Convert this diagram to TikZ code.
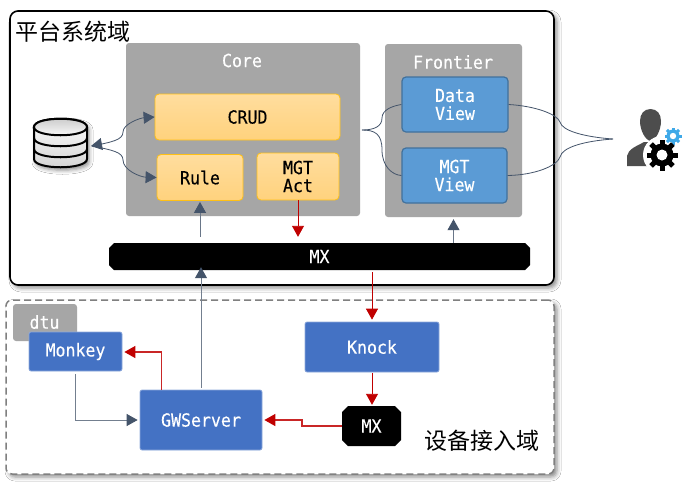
\documentclass[tikz,border=0pt]{standalone}
\usepackage{fontspec}
\setmonofont[FakeStretch=0.92,FakeBold=0.25]{DejaVu Sans Mono}
\newfontfamily\cjkfont{Noto Sans CJK SC}
\usetikzlibrary{arrows.meta,shadows.blur,calc}
\definecolor{panelgray}{HTML}{A6A6A6}
\definecolor{slate}{HTML}{44546A}
\definecolor{darkred}{HTML}{C00000}
\definecolor{blueA}{HTML}{4472C4}
\definecolor{blueB}{HTML}{5B9BD5}
\definecolor{geargray}{HTML}{4D4D4D}
\definecolor{gearblue}{HTML}{3FA9E8}
\newcommand{\chamferfill}[5]{% cx cy w h c
  \fill[black] ({#1-#3/2+#5},{#2-#4/2}) -- ({#1+#3/2-#5},{#2-#4/2}) -- ({#1+#3/2},{#2-#4/2+#5}) -- ({#1+#3/2},{#2+#4/2-#5}) -- ({#1+#3/2-#5},{#2+#4/2}) -- ({#1-#3/2+#5},{#2+#4/2}) -- ({#1-#3/2},{#2+#4/2-#5}) -- ({#1-#3/2},{#2-#4/2+#5}) -- cycle;}
\tikzset{
  softshadow/.style={blur shadow={shadow xshift=3pt,shadow yshift=-3pt,shadow blur radius=4pt,shadow opacity=45}},
  base/.style={inner sep=0pt,font=\ttfamily\fontsize{18}{18}\selectfont,align=center},
  domainbox/.style={base,draw=black,line width=1.6pt,fill=white,rounded corners=8pt,softshadow},
  dashbox/.style={base,draw=gray,line width=1.5pt,dash pattern=on 7pt off 4pt,fill=white,rounded corners=6pt,softshadow},
  panel/.style={base,fill=panelgray,rounded corners=3pt},
  paneltitle/.style={base,text=white},
  orangebox/.style={base,line width=0.8pt,rounded corners=4pt,text=black,top color={rgb,255:red,255;green,221;blue,158},bottom color={rgb,255:red,255;green,210;blue,125},draw={rgb,255:red,255;green,192;blue,20}},
  viewbox/.style={base,fill=blueB,draw={rgb,255:red,65;green,113;blue,156},line width=1.2pt,rounded corners=4pt,text=white},
  servicebox/.style={base,fill=blueA,draw={rgb,255:red,143;green,170;blue,220},line width=0.7pt,rounded corners=2pt,text=white},
  mxbox/.style={base,text=white},
  slatearrow/.style={draw=slate!80,line width=0.9pt,-{Triangle[width=12pt,length=11pt,color=slate]}},
  redarrow/.style={draw=darkred,line width=0.9pt,-{Triangle[width=12pt,length=11pt,color=darkred]}},
  softred/.style={draw=darkred!85,line width=1.2pt,-{Triangle[width=12pt,length=11pt,color=darkred]}},
  softslate/.style={draw=slate!75,line width=1pt,-{Triangle[width=12pt,length=11pt,color=slate]}},
  fork/.style={draw=slate,line width=0.8pt},
  domaintitle/.style={inner sep=0pt,font=\cjkfont\fontsize{23}{25}\selectfont,text=black},
}
\begin{document}
\begin{tikzpicture}[x=1pt,y=-1pt]
\useasboundingbox (0,0) rectangle (687,483);
\fill[white] (0,0) rectangle (687,483);

% domains
\node[domainbox,minimum width=544pt,minimum height=274pt] (platform) at (282,148) {};
\node[domaintitle] (platformtitle) at (73,32) {平台系统域};
\node[dashbox,minimum width=548pt,minimum height=174pt] (device) at (280,387) {};
\node[domaintitle] (devicetitle) at (481.5,441) {设备接入域};

% panels
\node[panel,minimum width=234pt,minimum height=173pt] (core) at (243,129.5) {};
\node[paneltitle] (coretitle) at (242,60.5) {Core};
\node[panel,minimum width=137pt,minimum height=173pt] (frontier) at (453.5,130.5) {};
\node[paneltitle] (frontiertitle) at (453,62) {Frontier};
\node[panel,minimum width=64pt,minimum height=37pt] (dtu) at (45,322.5) {};
\node[paneltitle] (dtutitle) at (44.5,322) {dtu};

% boxes
\node[orangebox,minimum width=185pt,minimum height=46pt] (crud) at (247.5,117) {CRUD};
\node[orangebox,minimum width=86pt,minimum height=46pt] (rule) at (200,177.5) {Rule};
\node[orangebox,minimum width=82pt,minimum height=47pt] (act) at (298,176.5) {MGT\\Act};
\node[viewbox,minimum width=106pt,minimum height=55pt] (dataview) at (455,104.5) {Data\\View};
\node[viewbox,minimum width=105pt,minimum height=55pt] (mgtview) at (454.5,175.5) {MGT\\View};
\chamferfill{319.5}{256.5}{421}{27}{5}
\node[mxbox,minimum width=421pt,minimum height=27pt] (mxbar) at (319.5,256.5) {MX};
\node[servicebox,minimum width=93pt,minimum height=39pt] (monkey) at (75.5,351.5) {Monkey};
\node[servicebox,minimum width=122pt,minimum height=60pt] (gw) at (201,420) {GWServer};
\node[servicebox,minimum width=134pt,minimum height=50pt] (knock) at (372,347) {Knock};
\chamferfill{371.5}{426}{59}{40}{6}
\node[mxbox,minimum width=59pt,minimum height=40pt] (mxsmall) at (371.5,426) {MX};

% database
\coordinate (dbport) at (91,146);
\begin{scope}[line width=2pt,draw=black]
  \path[blur shadow={shadow xshift=2pt,shadow yshift=-3pt,shadow blur radius=4pt,shadow opacity=45},fill=white]
    (34,127) -- (34,159) .. controls (34,170) and (87,170) .. (87,159) -- (87,127) .. controls (87,116) and (34,116) .. (34,127) -- cycle;
  \shade[top color=white,bottom color=gray!35,draw=black]
    (34,127) -- (34,159) .. controls (34,170) and (87,170) .. (87,159) -- (87,127) .. controls (87,116) and (34,116) .. (34,127) -- cycle;
  \shade[top color=gray!45,bottom color=white,draw=black]
    (34,127) .. controls (34,116) and (87,116) .. (87,127) .. controls (87,138) and (34,138) .. (34,127) -- cycle;
  \draw (34,138) .. controls (34,149) and (87,149) .. (87,138);
  \draw (34,149) .. controls (34,160) and (87,160) .. (87,149);
\end{scope}

% db forks
\draw[fork,-{Triangle[width=12pt,length=11pt,color=slate]}] (dbport) ++(1,0) .. controls (112,142) and (123,140) .. (123,132) .. controls (123,124) and (140,118) .. (crud.west);
\draw[fork,-{Triangle[width=12pt,length=11pt,color=slate]}] (dbport) ++(1,0) .. controls (112,150) and (123,152) .. (123,160) .. controls (123,170) and (140,177) .. (rule.west);
\draw[fork,{Triangle[width=12pt,length=11pt,color=slate]}-] (dbport) -- ++(11,-2);

% frontier fork
\coordinate (crudport) at (362,130);
\draw[fork] (crudport) .. controls (375,130) and (382,126) .. (382,118) .. controls (382,110) and (392,106) .. (dataview.west);
\draw[fork] (crudport) .. controls (375,130) and (382,134) .. (382,150) .. controls (382,166) and (392,175) .. (mgtview.west);

% user fork
\coordinate (userport) at (613,139);
\draw[fork] (userport) .. controls (585,137) and (562,131) .. (560,122) .. controls (557,114) and (535,106) .. (dataview.east);
\draw[fork] (userport) .. controls (585,141) and (562,147) .. (560,157) .. controls (557,166) and (535,175) .. (mgtview.east);

% straight arrows
\draw[slatearrow,shorten <=6pt,shorten >=1pt] (rule.south |- mxbar.north) -- (rule.south);
\draw[redarrow,shorten >=6pt] (act.south) -- (act.south |- mxbar.north);
\draw[slatearrow,shorten >=2pt] (frontier.south |- mxbar.north) -- (frontier.south);
\draw[softslate,shorten <=2pt,shorten >=-3pt] (gw.north) -- (gw.north |- mxbar.south);
\draw[redarrow,shorten <=2pt,shorten >=2pt] (knock.north |- mxbar.south) -- (knock.north);
\draw[redarrow,shorten <=1pt,shorten >=1pt] (knock.south) -- (knock.south |- mxsmall.north);
\draw[softred,shorten >=2pt] ($(gw.north west)+(22,0)$) |- ($(monkey.east)+(0,0.5)$);
\draw[softslate,shorten <=3pt,shorten >=2pt] (monkey.south) |- (gw.west);
\draw[softred,shorten >=2pt] (mxsmall.west) -- (302,426) -- (302,420) -- (gw.east);

% user icon
\fill[geargray] (627,166) -- (627,156) .. controls (628,149) and (637,146) .. (644,142) -- (658,142) .. controls (665,146) and (672,147) .. (676,154) -- (676,166) -- cycle;
\fill[geargray] (650.5,109) .. controls (644,109) and (640,114) .. (640,121) .. controls (640,130) and (645,140) .. (650.5,141) .. controls (656,140) and (661,130) .. (661,121) .. controls (661,114) and (657,109) .. (650.5,109) -- cycle;
\fill[white] (662,155) circle[radius=19];
\fill[white] (673,136) circle[radius=10];
\foreach \a in {0,45,...,315} {
  \fill[black,rotate around={\a:(662,155)}] (659.5,139.5) rectangle (664.5,146);
  \fill[gearblue,rotate around={\a:(673,136)}] (671.5,127.5) rectangle (674.5,131);
}
\fill[black] (662,155) circle[radius=11.5];
\fill[white] (662,155) circle[radius=5.5];
\fill[gearblue] (673,136) circle[radius=6.5];
\fill[white] (673,136) circle[radius=3.2];
\end{tikzpicture}
\end{document}
